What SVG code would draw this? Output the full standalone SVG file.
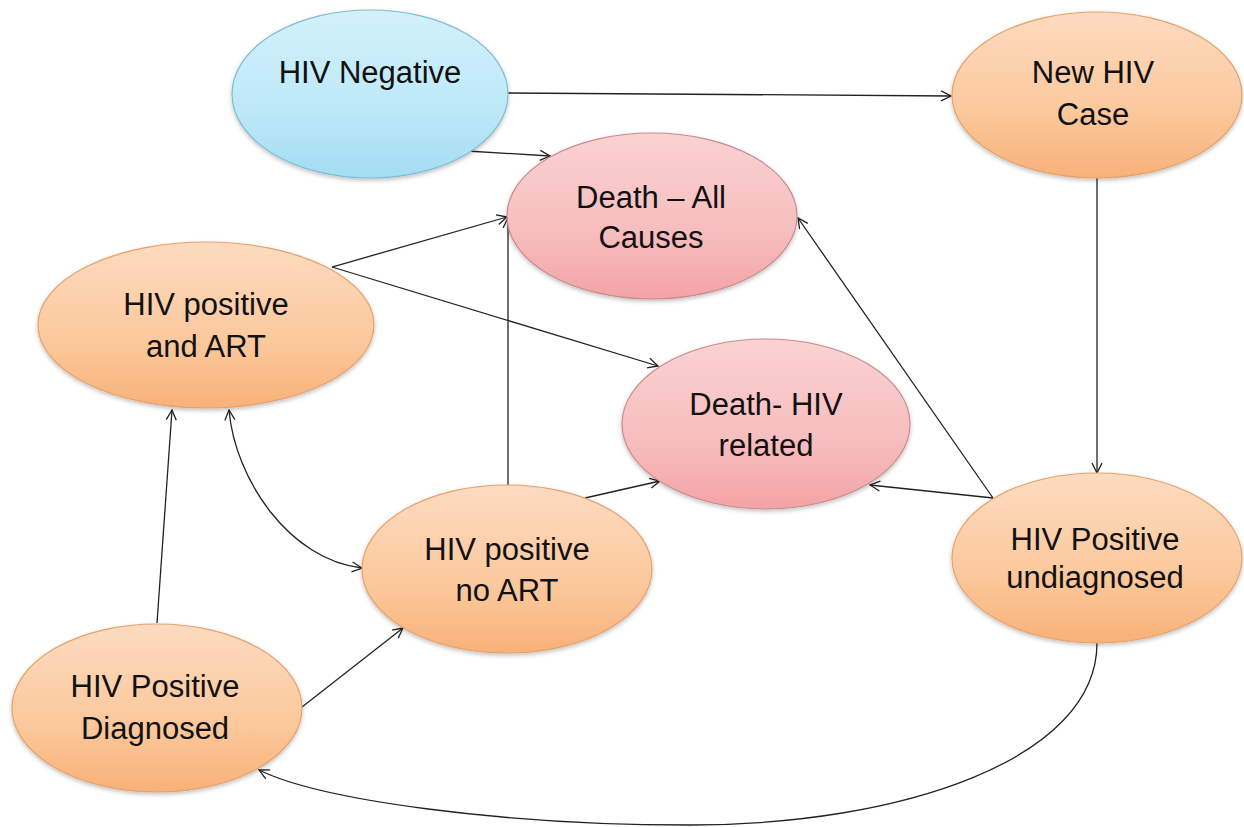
<svg xmlns="http://www.w3.org/2000/svg" width="1244" height="827" viewBox="0 0 1244 827">
<defs>
<linearGradient id="gBlue" x1="0" y1="0" x2="0" y2="1">
<stop offset="0" stop-color="#d2f1fb"/><stop offset="0.6" stop-color="#bde8f8"/><stop offset="1" stop-color="#a3dcf2"/>
</linearGradient>
<linearGradient id="gOrange" x1="0" y1="0" x2="0" y2="1">
<stop offset="0" stop-color="#fddbc0"/><stop offset="0.6" stop-color="#fbc89c"/><stop offset="1" stop-color="#f8b178"/>
</linearGradient>
<linearGradient id="gPink" x1="0" y1="0" x2="0" y2="1">
<stop offset="0" stop-color="#fad2d2"/><stop offset="0.6" stop-color="#f7bdbe"/><stop offset="1" stop-color="#f3a3a6"/>
</linearGradient>
<filter id="sh" x="-10%" y="-10%" width="120%" height="130%">
<feDropShadow dx="0" dy="2" stdDeviation="2" flood-color="#000" flood-opacity="0.25"/>
</filter>
<marker id="arr" viewBox="0 0 12 12" refX="11" refY="6" markerWidth="12" markerHeight="12" markerUnits="userSpaceOnUse" orient="auto-start-reverse">
<path d="M1,1 L11,6 L1,11" fill="none" stroke="#222" stroke-width="1.3"/>
</marker>
</defs>
<style>
.blue{fill:url(#gBlue);stroke:#7fbcd3;stroke-width:1.2;filter:url(#sh)}
.orange{fill:url(#gOrange);stroke:#e6a16a;stroke-width:1.2;filter:url(#sh)}
.pink{fill:url(#gPink);stroke:#c98b8d;stroke-width:1.2;filter:url(#sh)}
text{font-family:"Liberation Sans",Arial,sans-serif;font-size:31px;fill:#111;text-anchor:middle}
.c{fill:none;stroke:#222;stroke-width:1.3;marker-end:url(#arr)}
</style>
<rect width="1244" height="827" fill="#fff"/>
<g id="connectors">
<line class="c" x1="508" y1="93" x2="951" y2="96"/>
<line class="c" x1="467" y1="151" x2="550" y2="156"/>
<line class="c" x1="1097" y1="178" x2="1097" y2="473"/>
<line class="c" x1="332" y1="267" x2="507" y2="217"/>
<line class="c" x1="332" y1="267" x2="658" y2="366"/>
<line class="c" x1="508" y1="486" x2="508" y2="218"/>
<line class="c" x1="585" y1="498" x2="660" y2="481"/>
<line class="c" x1="993" y1="498" x2="798" y2="218"/>
<line class="c" x1="993" y1="498" x2="870" y2="485"/>
<line class="c" x1="157" y1="623" x2="172" y2="410"/>
<line class="c" x1="302" y1="707" x2="403" y2="628"/>
<path class="c" d="M229,410 C235,480 290,560 362,568" marker-start="url(#arr)"/>
<path class="c" d="M1097,643 C1097,760 900,825 690,825 C500,825 320,800 259,770"/>
</g>
<g id="hiv-negative">
<ellipse class="blue" cx="370" cy="94" rx="138" ry="84"/>
<text x="370" y="83">HIV Negative</text>
</g>
<g id="new-hiv-case">
<ellipse class="orange" cx="1097" cy="95" rx="145" ry="83"/>
<text x="1093" y="83">New HIV</text>
<text x="1093" y="125">Case</text>
</g>
<g id="death-all-causes">
<ellipse class="pink" cx="652" cy="216" rx="145" ry="83"/>
<text x="651" y="208">Death – All</text>
<text x="651" y="248">Causes</text>
</g>
<g id="hiv-positive-art">
<ellipse class="orange" cx="206" cy="325" rx="168" ry="83"/>
<text x="206" y="315">HIV positive</text>
<text x="206" y="357">and ART</text>
</g>
<g id="death-hiv-related">
<ellipse class="pink" cx="766" cy="424" rx="144" ry="85"/>
<text x="766" y="415">Death- HIV</text>
<text x="766" y="456">related</text>
</g>
<g id="hiv-positive-no-art">
<ellipse class="orange" cx="507" cy="569" rx="145" ry="84"/>
<text x="507" y="560">HIV positive</text>
<text x="507" y="601">no ART</text>
</g>
<g id="hiv-positive-undiagnosed">
<ellipse class="orange" cx="1097" cy="558" rx="145" ry="85"/>
<text x="1095" y="550">HIV Positive</text>
<text x="1095" y="588">undiagnosed</text>
</g>
<g id="hiv-positive-diagnosed">
<ellipse class="orange" cx="157" cy="708" rx="145" ry="84"/>
<text x="155" y="697">HIV Positive</text>
<text x="155" y="739">Diagnosed</text>
</g>
</svg>
